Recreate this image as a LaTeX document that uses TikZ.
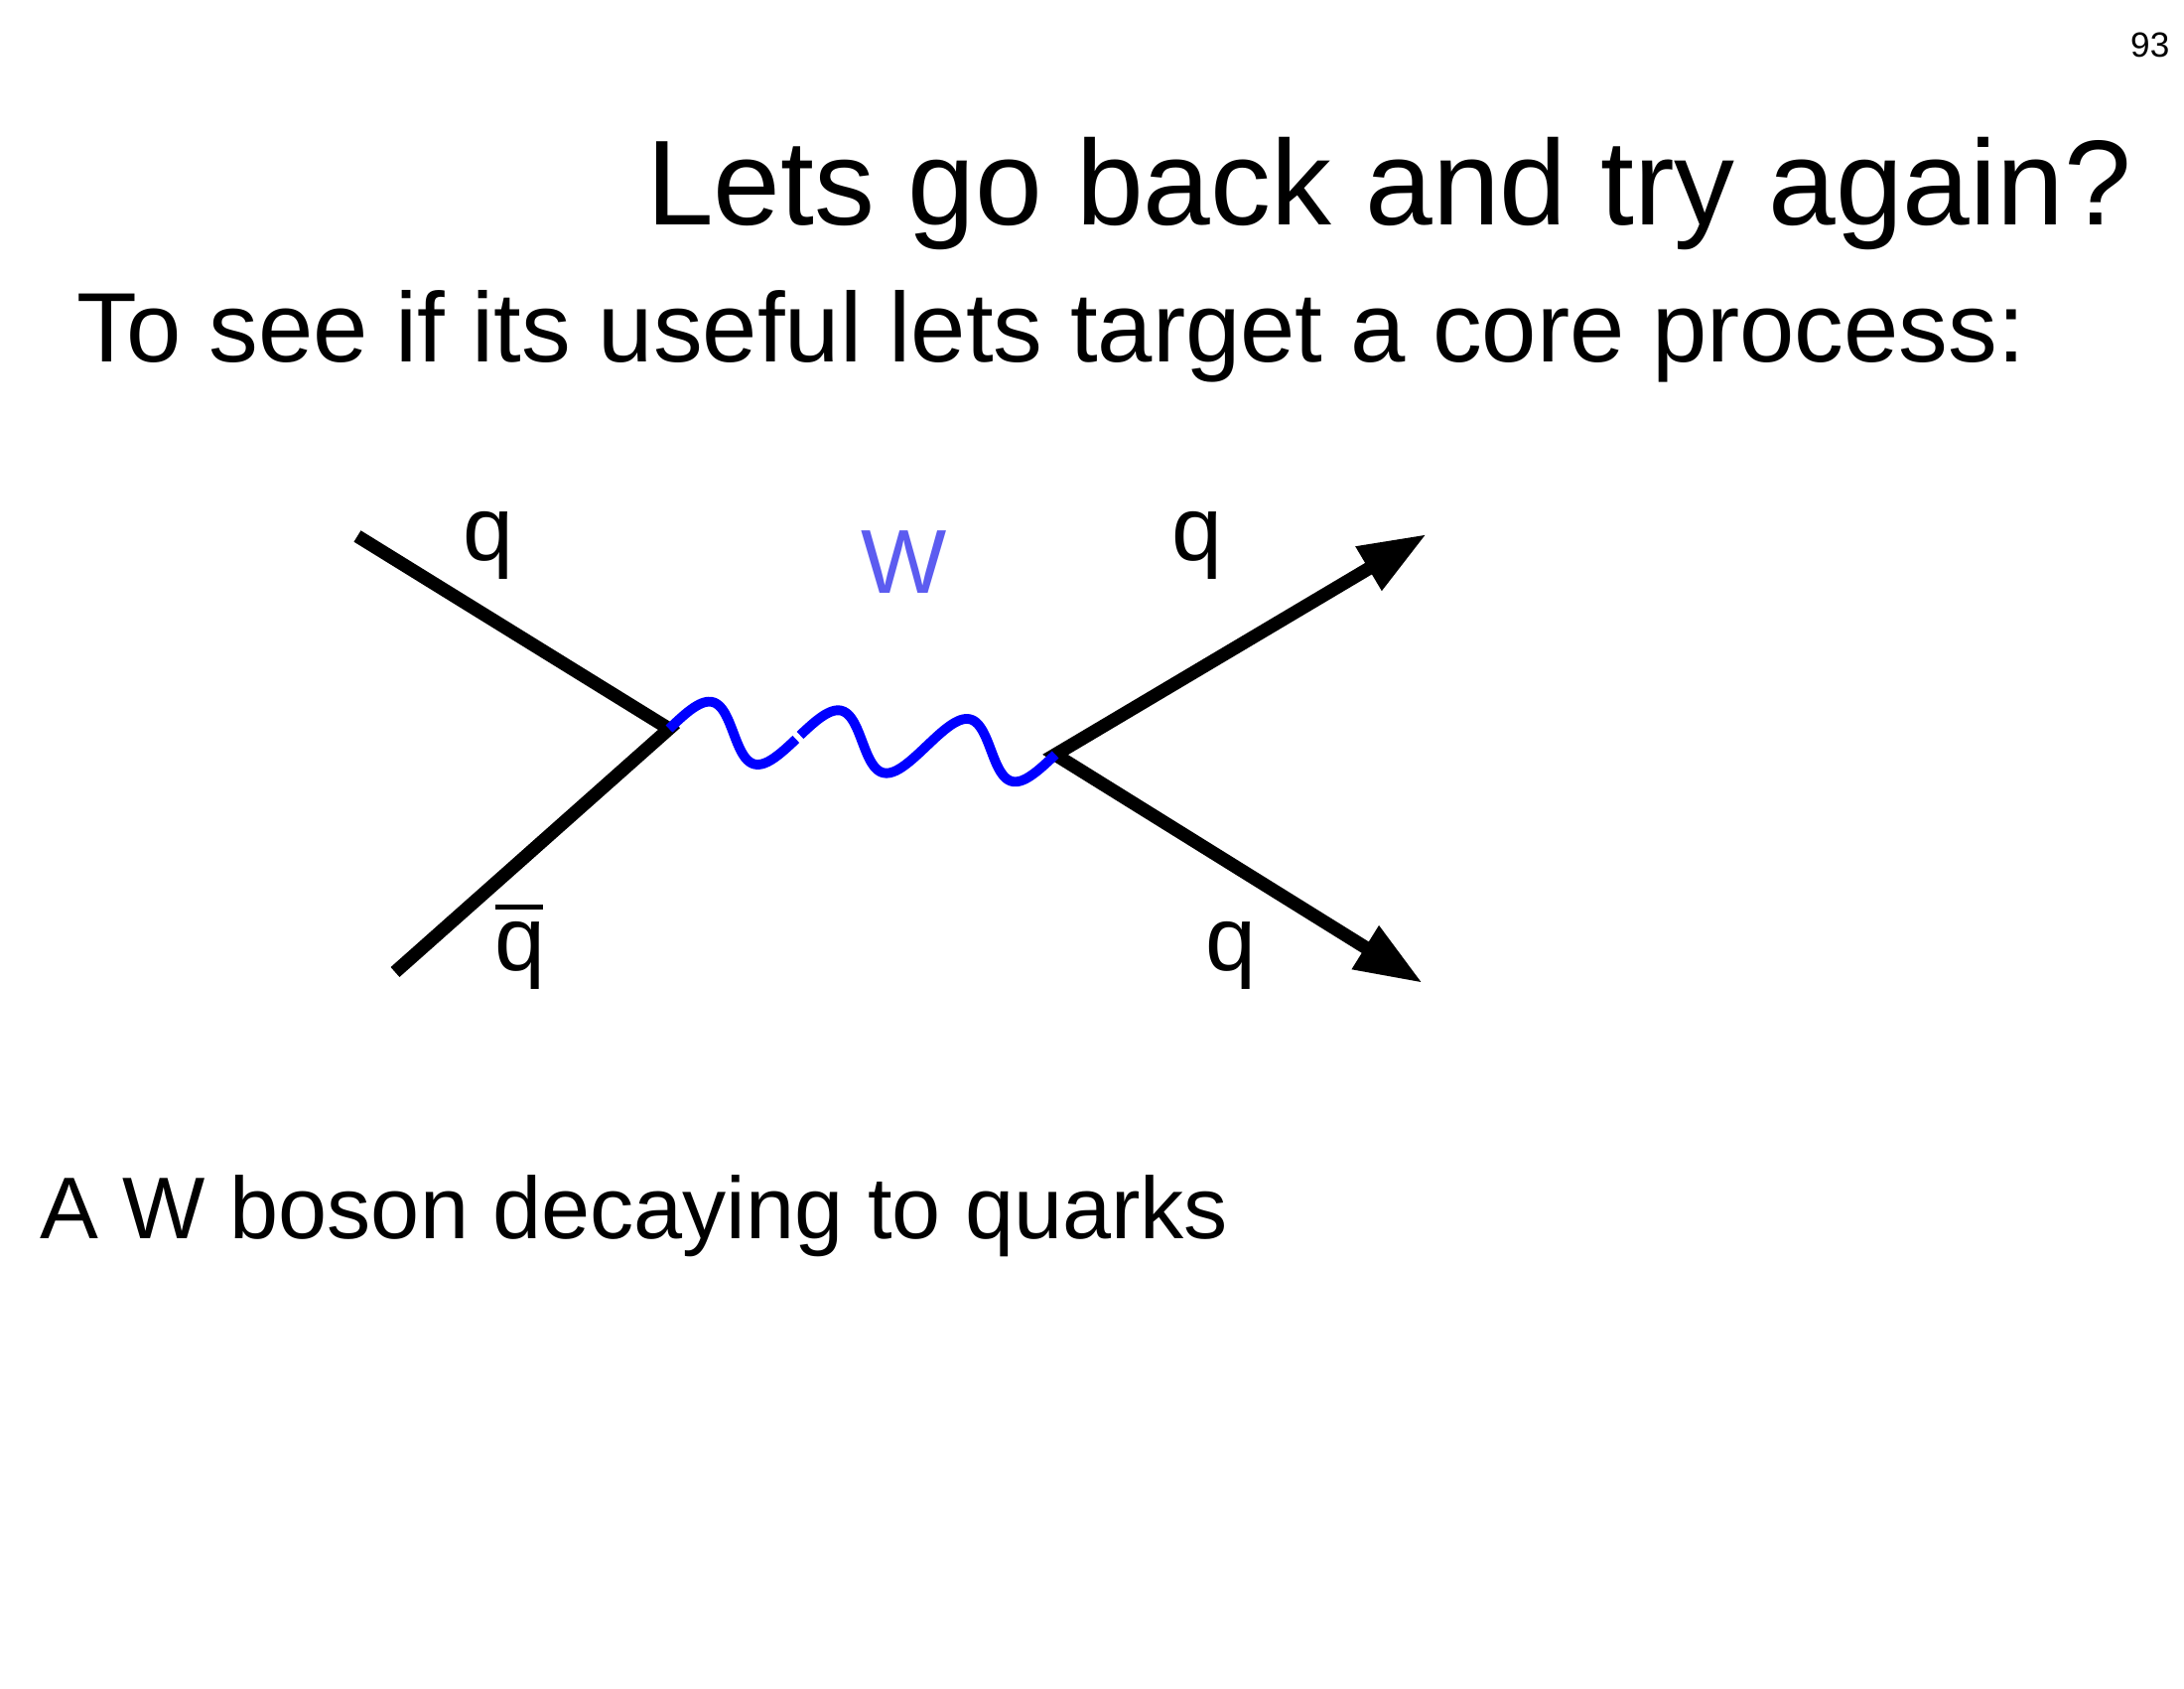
\documentclass[tikz,border=0pt]{standalone}
\usepackage{fontspec}
\setmainfont{Liberation Sans}
\usetikzlibrary{arrows.meta}
\definecolor{wlabel}{RGB}{92,92,240}

\begin{document}
\begin{tikzpicture}[
>={Triangle[length=0.68cm, width=0.48cm]},
fermion/.style={line width=3.8pt, draw=black},
boson/.style={line width=2.8pt, draw=blue},
lab/.style={inner sep=0pt, anchor=base, font=\fontsize{26}{30}\selectfont},
slide/.style={inner sep=0pt}
]
\useasboundingbox (0,0) rectangle (22,17);

\node[slide, anchor=base east, font=\fontsize{10}{12}\selectfont] (pagenum) at (21.86,16.42) {93};
\node[slide, anchor=base east, font=\fontsize{34.65}{40}\selectfont] (title) at (21.48,14.73) {Lets go back and try again?};
\node[slide, anchor=base west, font=\fontsize{28.3}{34}\selectfont] (subtitle) at (0.77,13.35) {To see if its useful lets target a core process:};
\node[slide, anchor=base west, font=\fontsize{25.1}{30}\selectfont] (caption) at (0.40,4.52) {A W boson decaying to quarks};

\coordinate (qin) at (3.60,11.60);
\coordinate (qbarin) at (3.98,7.21);
\coordinate (v1) at (6.74,9.66);
\coordinate (v2) at (10.63,9.40);
\coordinate (qout1) at (14.37,11.62);
\coordinate (qout2) at (14.33,7.10);

\draw[fermion] (qin) -- (v1) -- (qbarin);
\draw[fermion, <->] (qout1) -- (v2) -- (qout2);

\begin{scope}[shift={(v1)}, rotate=-3.82]
\draw[boson] plot[domain=0:6.22, samples=80, variable=\t] ({0.2069*(\t+0.338*sin(\t r))}, {0.30*sin(\t r)});
\draw[boson] plot[domain=6.36:18.8496, samples=200, variable=\t] ({0.2069*(\t+0.338*sin(\t r))}, {0.30*sin(\t r)});
\end{scope}

\node[lab] (qinlab) at (4.92,11.35) {q};
\node[lab, text=wlabel] (wlab) at (9.11,11.02) {W};
\node[lab] (qoutlab1) at (12.06,11.35) {q};
\node[lab] (qbarlab) at (5.24,7.22) {\makebox[0pt][l]{\rule[0.62cm]{0.48cm}{0.045cm}}q};
\node[lab] (qoutlab2) at (12.40,7.22) {q};
\end{tikzpicture}
\end{document}
